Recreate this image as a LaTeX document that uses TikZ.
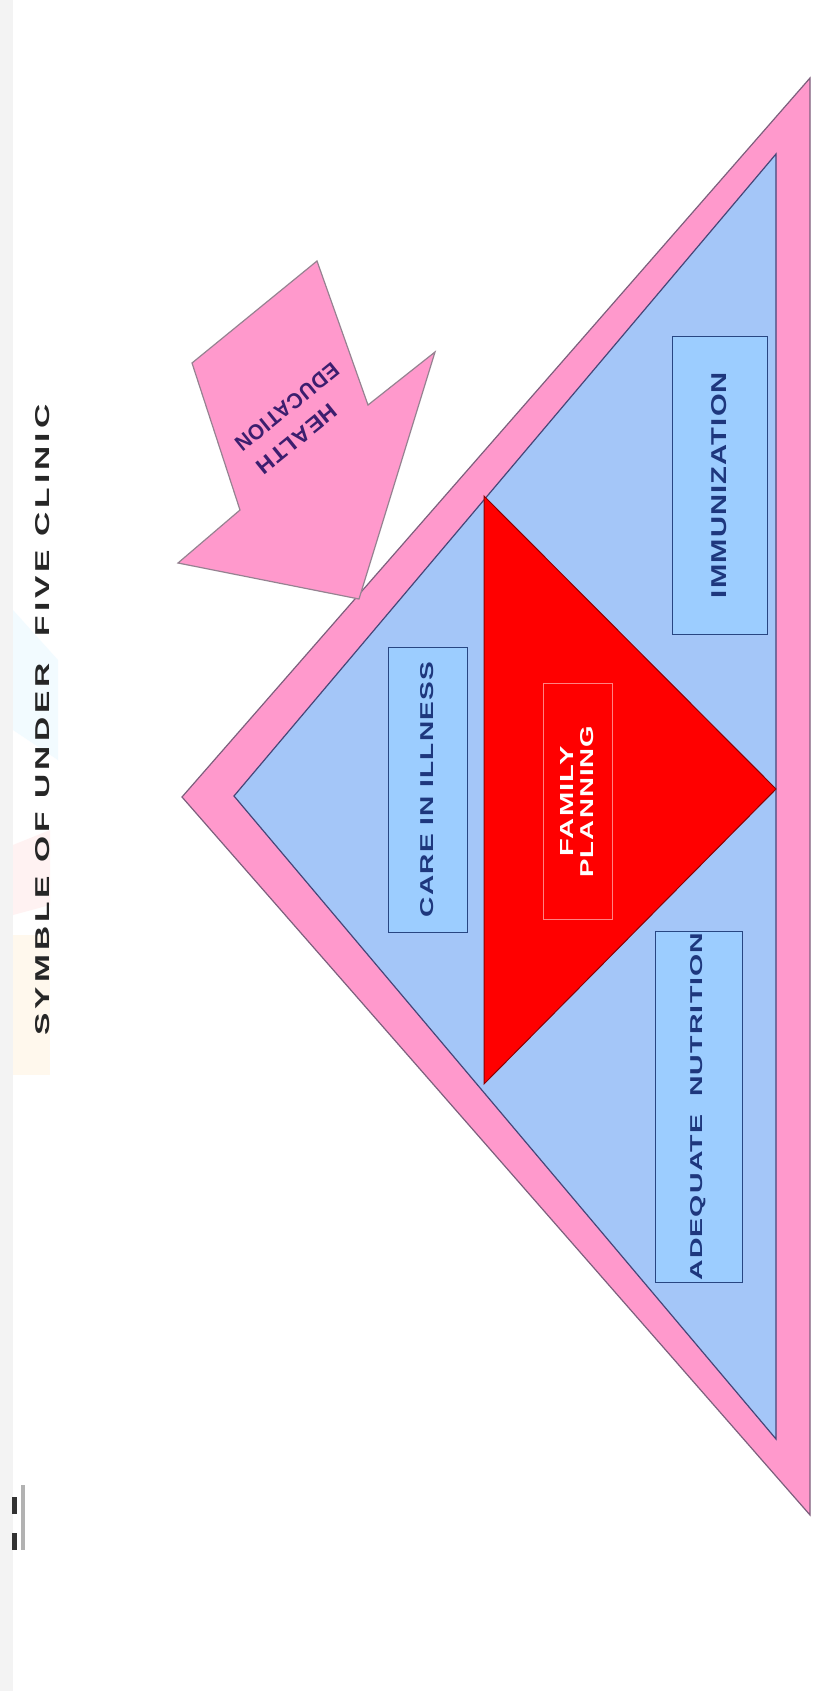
\documentclass[tikz,border=0pt]{standalone}
\usepackage{fontspec}
\setmainfont{Liberation Sans}
\newfontfamily\boxfont[LetterSpace=4]{Liberation Sans}
\newfontfamily\headfont[LetterSpace=12]{Liberation Sans}
\usepackage{graphicx}
\usetikzlibrary{positioning}
\definecolor{outerpink}{RGB}{255,153,204}
\definecolor{edgegray}{RGB}{125,95,125}
\definecolor{innerblue}{RGB}{164,198,248}
\definecolor{inneredge}{RGB}{70,70,120}
\definecolor{boxblue}{RGB}{156,205,255}
\definecolor{boxline}{RGB}{40,70,130}
\definecolor{textblue}{RGB}{30,55,125}
\definecolor{fpred}{RGB}{255,0,0}
\definecolor{fpedge}{RGB}{140,0,0}
\definecolor{fpline}{RGB}{255,130,130}
\definecolor{arrowedge}{RGB}{150,130,145}
\definecolor{arrowtext}{RGB}{60,30,110}
\definecolor{pagegray}{RGB}{243,243,243}
\newcommand{\fitlbl}[3]{\resizebox{#1pt}{#2pt}{#3}}

\begin{document}
\begin{tikzpicture}[x=1pt, y=-1pt,
    lbl/.style={draw=boxline, fill=boxblue, line width=1pt, rotate=90, inner sep=0pt,
      text=textblue, font=\boxfont\bfseries\fontsize{18}{20}\selectfont},
    arrowlbl/.style={rotate=219, inner sep=0pt, text=arrowtext, font=\boxfont\bfseries}]
  \useasboundingbox (0,0) rectangle (830,1691);
  \fill[white] (0,0) rectangle (830,1691);
  \fill[pagegray] (0,0) rectangle (13,1691);

  % faint background marks
  \fill[blue!30!cyan!5] (13,610) -- (58,660) -- (58,760) -- (13,730) -- cycle;
  \fill[red!5] (13,845) -- (50,830) -- (50,905) -- (13,915) -- cycle;
  \fill[yellow!12!orange!6] (13,935) rectangle (50,1075);

  % logo
  \fill[black!80] (12,1497) rectangle (17,1514);
  \fill[black!80] (12,1533) rectangle (17,1550);
  \fill[black!30] (21,1485) rectangle (25,1550);

  \node[rotate=90, inner sep=0pt, text=black!85, font=\headfont\bfseries] (title) at (43,720)
    {\fitlbl{631}{14}{SYMBLE OF UNDER\ \ FIVE CLINIC}};

  % triangles
  \coordinate (oapex) at (182,797);
  \coordinate (otop) at (810,78);
  \coordinate (obot) at (810,1515);
  \coordinate (iapex) at (234,796);
  \coordinate (itop) at (776,154);
  \coordinate (ibot) at (776,1439);
  \coordinate (rtop) at (484,496);
  \coordinate (rtip) at (776,789);
  \coordinate (rbot) at (484,1084);

  \filldraw[fill=outerpink, draw=edgegray, line width=1.2pt] (oapex) -- (otop) -- (obot) -- cycle;
  \filldraw[fill=innerblue, draw=inneredge, line width=1.2pt] (iapex) -- (itop) -- (ibot) -- cycle;
  \filldraw[fill=fpred, draw=fpedge, line width=1pt] (rtop) -- (rtip) -- (rbot) -- cycle;

  % labels
  \node[lbl, minimum width=285pt, minimum height=79pt] (care) at (427.5,789.5)
    {\fitlbl{255}{13}{CARE IN ILLNESS}};
  \node[lbl, draw=fpline, fill=fpred, text=white, align=center, minimum width=236pt,
    minimum height=69pt] (famplan) at (577.5,801.5)
    {\fitlbl{110}{13}{FAMILY}\\\fitlbl{152}{13}{PLANNING}};
  \node[lbl, minimum width=351pt, minimum height=87pt] (nutrition) at (698.5,1106.5)
    {\fitlbl{348}{12}{ADEQUATE\ \ NUTRITION}};
  \node[lbl, minimum width=298pt, minimum height=95pt] (immun) at (719.5,485)
    {\fitlbl{226}{15}{IMMUNIZATION}};

  % health education arrow
  \coordinate (shaftl) at (192,363);
  \coordinate (shaftr) at (317,261);
  \coordinate (notchr) at (368,405);
  \coordinate (headr) at (435,352);
  \coordinate (tip) at (359,599);
  \coordinate (headl) at (178,563);
  \coordinate (notchl) at (240,510);
  \filldraw[fill=outerpink, draw=arrowedge, line width=1.2pt]
    (shaftl) -- (shaftr) -- (notchr) -- (headr) -- (tip) -- (headl) -- (notchl) -- cycle;
  \node[arrowlbl] (health) at (297,439) {\fitlbl{97}{15}{HEALTH}};
  \node[arrowlbl] (education) at (287,407) {\fitlbl{127}{15}{EDUCATION}};
\end{tikzpicture}
\end{document}
